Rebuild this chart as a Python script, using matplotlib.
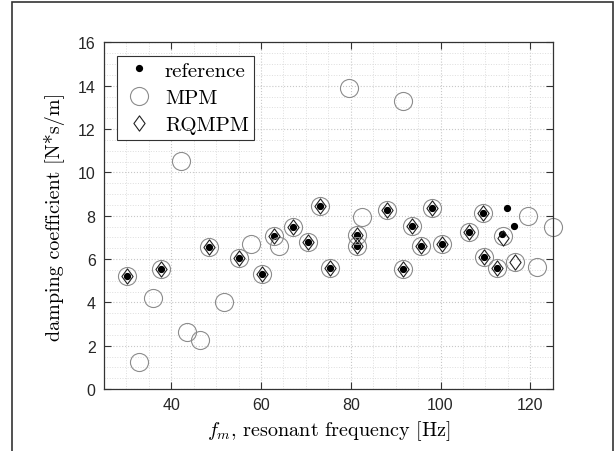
import matplotlib
matplotlib.use('Agg')
import matplotlib.pyplot as plt
import numpy as np
from matplotlib.path import Path
from matplotlib.patches import Rectangle

plt.rcParams['mathtext.fontset'] = 'cm'
plt.rcParams['axes.unicode_minus'] = False

# Data
f_ref = [30.2, 37.8, 48.3, 55.2, 60.2, 62.8, 67.1, 70.4, 73.2, 75.4, 81.3, 81.3, 88.1,
         91.6, 93.7, 95.6, 98.0, 100.4, 106.3, 109.5, 109.8, 112.6, 113.8, 114.8, 116.3]
d_ref = [5.23, 5.54, 6.56, 6.06, 5.32, 7.08, 7.48, 6.80, 8.46, 5.60, 7.11, 6.62, 8.25,
         5.54, 7.51, 6.59, 8.34, 6.68, 7.23, 8.13, 6.09, 5.57, 7.14, 8.34, 7.51]

f_rq = [30.2, 37.8, 48.3, 55.2, 60.2, 62.8, 67.1, 70.4, 73.2, 75.4, 81.3, 81.3, 88.1,
        91.6, 93.7, 95.6, 98.0, 100.4, 106.3, 109.5, 109.8, 112.6, 113.9, 116.6]
d_rq = [5.23, 5.54, 6.56, 6.06, 5.32, 7.08, 7.48, 6.80, 8.46, 5.60, 7.11, 6.62, 8.25,
        5.54, 7.51, 6.59, 8.34, 6.68, 7.23, 8.13, 6.09, 5.57, 6.99, 5.88]

f_mpm = [30.2, 37.8, 48.3, 55.2, 60.2, 62.8, 67.1, 70.4, 73.2, 75.4, 81.3, 81.3, 88.1,
         91.6, 93.7, 95.6, 98.0, 100.4, 106.3, 109.5, 109.8, 112.6, 113.9, 116.6,
         32.8, 35.9, 42.2, 43.4, 46.3, 51.7, 57.8, 64.1, 79.5, 82.6, 91.6, 119.6, 121.6, 125.1]
d_mpm = [5.23, 5.54, 6.56, 6.06, 5.32, 7.08, 7.48, 6.80, 8.46, 5.60, 7.11, 6.62, 8.25,
         5.54, 7.51, 6.59, 8.34, 6.68, 7.23, 8.13, 6.09, 5.57, 7.05, 5.88,
         1.23, 4.19, 10.51, 2.62, 2.25, 4.00, 6.68, 6.59, 13.88, 7.94, 13.28, 7.97, 5.63, 7.48]

# MATLAB-like diamond marker
diamond = Path([(0, 1), (0.73, 0), (0, -1), (-0.73, 0), (0, 1)],
               [Path.MOVETO, Path.LINETO, Path.LINETO, Path.LINETO, Path.CLOSEPOLY])

fig = plt.figure(figsize=(6.16, 4.52), dpi=100)
ax = fig.add_axes([0.1688, 0.1372, 0.7284, 0.7666])

# Outer frame
fig.patches.append(Rectangle((12 / 616, -0.1), 601 / 616, 1.1 - 3 / 452,
                             transform=fig.transFigure, fill=False,
                             edgecolor='#333333', linewidth=1.2))

ax.plot(f_ref, d_ref, 'o', color='k', markersize=4.2, linestyle='none', label='reference')
ax.plot(f_mpm, d_mpm, 'o', markerfacecolor='none', markeredgecolor='#8c8c8c',
        markersize=13, markeredgewidth=0.8, linestyle='none', label='MPM', clip_on=False)
ax.plot(f_rq, d_rq, marker=diamond, markerfacecolor='none', markeredgecolor='#222222',
        markersize=11, markeredgewidth=0.8, linestyle='none', label='RQMPM')

ax.set_xlim(25, 125)
ax.set_ylim(0, 16)
ax.set_xticks([40, 60, 80, 100, 120])
ax.set_yticks(np.arange(0, 17, 2))
ax.set_xticks(np.arange(25, 126, 5), minor=True)
ax.set_yticks(np.arange(0, 16.1, 0.5), minor=True)

ax.tick_params(which='major', direction='in', length=5, width=0.8, top=True, right=True,
               labelsize=11.5, color='#333333', labelcolor='#262626', pad=6)
ax.tick_params(which='minor', length=0, top=True, right=True)
for lab in ax.get_xticklabels() + ax.get_yticklabels():
    lab.set_fontfamily('Liberation Sans')

for s in ax.spines.values():
    s.set_color('#333333')
    s.set_linewidth(0.9)

ax.grid(which='major', linestyle=':', color='#c8c8c8', linewidth=0.8)
ax.grid(which='minor', linestyle=':', color='#dddddd', linewidth=0.7)
ax.set_axisbelow(True)

ax.set_xlabel(r'$f_m$, resonant frequency [Hz]', fontfamily='cmr10', fontsize=14.5, labelpad=4)
ax.set_ylabel('damping coefficient [N*s/m]', fontfamily='cmr10', fontsize=14.5, labelpad=9)

leg = ax.legend(loc='upper left', bbox_to_anchor=(0.029, 0.961), borderaxespad=0,
                prop={'family': 'cmr10', 'size': 15},
                fancybox=False, edgecolor='#333333', framealpha=1, borderpad=0.25,
                labelspacing=0.42, handletextpad=0.45, handlelength=1.6)
leg.get_frame().set_linewidth(0.8)

plt.savefig('out.png', dpi=100)
